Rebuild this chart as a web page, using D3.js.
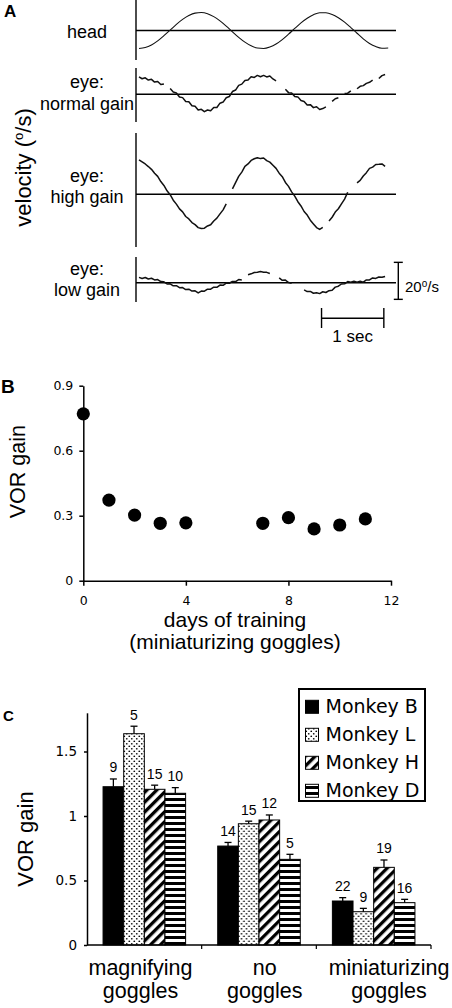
<!DOCTYPE html>
<html><head><meta charset="utf-8">
<script src="https://cdn.jsdelivr.net/npm/d3@7"></script>
<style>body{margin:0;background:#fff}svg{display:block}</style>
</head><body>
<svg id="c" width="452" height="1008"></svg>
<script>
// ---------------- Panel A data (velocity, deg/s) ----------------
const headDt = 0.1;   // s between samples
const headVelocity = [-9.7,-9.2,-7.8,-5.6,-2.8,0.2,3.3,6.0,8.1,9.4,
  9.7,9.1,7.5,5.2,2.4,-0.7,-3.7,-6.3,-8.3,-9.5,
  -9.7,-8.9,-7.3,-4.9,-2.0,1.1,4.1,6.6,8.5,9.6,
  9.6,8.7,6.9,4.5,1.6,-1.5,-4.5,-7.0,-8.7,-9.6,-9.5];
const eyeDt = 0.05;
const eyeNormal = [9.4,8.4,8.9,7.7,8.1,6.6,6.9,5.3,5.6,null,
  3.1,1.2,0.7,-1.5,-1.8,-3.9,-4.0,-6.2,-6.5,-8.5,
  -8.1,-9.4,-8.5,-8.9,-7.1,-7.1,-4.8,-4.2,-1.9,-1.2,
  1.5,2.3,4.8,5.5,7.5,7.7,9.5,9.1,10.2,9.5,
  10.2,9.4,9.9,8.3,7.3,null,null,2.7,0.9,0.7,
  -1.2,-1.4,-3.4,-3.9,-5.8,-5.6,-7.2,-6.7,-8.2,-7.7,
  -6.8,null,-3.8,-2.4,-1.9,null,0.4,0.6,1.9,null,
  3.0,4.3,4.7,5.9,6.5,7.6,null,8.5,10.1,10.7];
const eyeHigh = [18.6,17.5,16.4,15.0,13.5,11.4,9.7,6.9,4.8,1.9,
  -0.2,-3.2,-5.3,-7.9,-9.5,-12.0,-13.3,-15.3,-16.4,-18.0,
  -18.5,-18.3,-17.1,-16.5,-14.4,-12.9,-10.6,-8.4,-5.2,null,
  2.9,6.3,9.7,12.0,15.1,16.4,18.3,19.2,19.8,19.3,
  19.6,18.2,17.4,15.7,14.0,11.4,9.5,6.4,4.3,1.3,
  -1.0,-4.0,-6.3,-9.3,-11.2,-14.0,-16.0,-18.0,-19.0,-17.9,
  null,-14.4,-12.4,-9.6,-7.8,-5.2,-2.6,1.1,null,null,
  6.2,7.5,9.9,11.7,14.0,14.7,16.1,16.2,16.4,15.1];
const eyeLow = [2.9,2.3,2.8,2.0,2.4,1.5,1.7,0.6,0.5,-0.7,
  -0.6,-1.7,-1.6,-2.7,-2.6,-3.7,-3.5,-4.5,-4.4,-5.5,
  -4.5,-4.6,-3.5,-3.5,-2.4,-2.5,-1.3,-1.4,-0.2,-0.3,
  0.7,0.6,1.7,1.5,null,4.3,4.8,5.5,5.7,6.0,
  5.7,5.6,5.0,null,null,2.6,1.3,1.4,0.1,-0.3,
  null,null,null,-3.9,-4.8,-4.7,-5.7,-5.4,-5.9,-4.9,
  -5.3,-4.3,-4.1,-2.4,-1.9,-0.7,-0.6,0.6,0.2,0.8,
  0.2,0.8,0.3,1.5,1.5,2.6,2.3,3.1,2.9,3.4];
const traceLabels = [["head"],["eye:","normal gain"],["eye:","high gain"],["eye:","low gain"]];
const velocityScaleBar = 20; // deg/s
const timeScaleBar = 1;      // s

// ---------------- Panel B data ----------------
const trainingDays = [0,1,2,3,4,7,8,9,10,11];
const trainingGain = [0.77,0.372,0.303,0.265,0.267,0.265,0.291,0.239,0.257,0.285];
const dayTicks = [0,4,8,12];
const gainTicksB = [0,0.3,0.6,0.9];

// ---------------- Panel C data ----------------
const conditions = ["magnifying goggles","no goggles","miniaturizing goggles"];
const monkeys = ["Monkey B","Monkey L","Monkey H","Monkey D"];
const gainMagnifying = [1.227,1.638,1.207,1.176];
const errMagnifying  = [0.06,0.058,0.032,0.044];
const nMagnifying    = [9,5,15,10];
const gainNoGoggles  = [0.767,0.940,0.969,0.664];
const errNoGoggles   = [0.028,0.02,0.039,0.039];
const nNoGoggles     = [14,15,12,5];
const gainMiniaturizing = [0.341,0.258,0.602,0.328];
const errMiniaturizing  = [0.026,0.026,0.057,0.026];
const nMiniaturizing    = [22,9,19,16];
const gainTicksC = [0,0.5,1,1.5];

// =================================================
const svg = d3.select("#c");
const FA = "'Liberation Sans', Arial, Helvetica, sans-serif";
const FV = "'DejaVu Sans', Verdana, sans-serif";

// ---------- patterns ----------
const defs = svg.append("defs");
const pDots = defs.append("pattern").attr("id","pDots").attr("patternUnits","userSpaceOnUse").attr("width",5).attr("height",5);
pDots.append("rect").attr("width",5).attr("height",5).attr("fill","#fff");
pDots.append("circle").attr("cx",1.25).attr("cy",1.25).attr("r",0.85).attr("fill","#000");
pDots.append("circle").attr("cx",3.75).attr("cy",3.75).attr("r",0.85).attr("fill","#000");
const pDiag = defs.append("pattern").attr("id","pDiag").attr("patternUnits","userSpaceOnUse").attr("width",7).attr("height",7).attr("patternTransform","rotate(45)");
pDiag.append("rect").attr("width",7).attr("height",7).attr("fill","#fff");
pDiag.append("rect").attr("width",3.3).attr("height",7).attr("fill","#000");
const pHor = defs.append("pattern").attr("id","pHor").attr("patternUnits","userSpaceOnUse").attr("width",6).attr("height",6);
pHor.append("rect").attr("width",6).attr("height",6).attr("fill","#fff");
pHor.append("rect").attr("width",6).attr("height",3).attr("fill","#000");
const fills = ["#000","url(#pDots)","url(#pDiag)","url(#pHor)"];

// ================= Panel A =================
const gA = svg.append("g");
gA.append("text").attr("x",4).attr("y",17).attr("font-family",FA).attr("font-weight","bold").attr("font-size",17).text("A");
const tx = d3.scaleLinear().domain([0,1]).range([139,201.3]);
const layoutA = [
  {values: headVelocity, dt: headDt, zeroY: 30.5, axis:[0,60], labelY: 37.7, w: 1.1, smooth: true},
  {values: eyeNormal, dt: eyeDt, zeroY: 94.3, axis:[68,122], labelY: 88, w: 1.5},
  {values: eyeHigh, dt: eyeDt, zeroY: 194.3, axis:[133,247], labelY: 181.5, w: 1.5},
  {values: eyeLow, dt: eyeDt, zeroY: 282.7, axis:[257,302], labelY: 274.5, w: 1.5}
];
let lowY;
layoutA.forEach((p,i)=>{
  const y = d3.scaleLinear().domain([0,20]).range([p.zeroY, p.zeroY-37]);
  if (i===3) lowY = y;
  gA.append("line").attr("x1",136).attr("x2",136).attr("y1",p.axis[0]).attr("y2",p.axis[1]).attr("stroke","#000").attr("stroke-width",1.4);
  gA.append("line").attr("x1",136).attr("x2",396).attr("y1",y(0)).attr("y2",y(0)).attr("stroke","#000").attr("stroke-width",1.4);
  const line = d3.line().defined(d=>d!=null).x((d,j)=>tx(j*p.dt)).y(d=>y(d))
    .curve(p.smooth ? d3.curveMonotoneX : d3.curveLinear);
  gA.append("path").datum(p.values).attr("d",line).attr("fill","none").attr("stroke","#111").attr("stroke-width",p.w).attr("stroke-linejoin","round");
  traceLabels[i].forEach((s,k)=>{
    gA.append("text").attr("x",87).attr("y",p.labelY + k*21.5).attr("text-anchor","middle")
      .attr("font-family",FA).attr("font-size",18).text(s);
  });
});
// velocity scale bar
const sbX = 398.3, sbLo = -9;
gA.append("line").attr("x1",sbX).attr("x2",sbX).attr("y1",lowY(sbLo)).attr("y2",lowY(sbLo+velocityScaleBar)).attr("stroke","#000").attr("stroke-width",1.4);
[sbLo, sbLo+velocityScaleBar].forEach(v=>gA.append("line").attr("x1",sbX-4.5).attr("x2",sbX+4.5).attr("y1",lowY(v)).attr("y2",lowY(v)).attr("stroke","#000").attr("stroke-width",1.4));
const sbt = gA.append("text").attr("x",405).attr("y",292).attr("font-family",FA).attr("font-size",15);
sbt.append("tspan").text(velocityScaleBar);
sbt.append("tspan").attr("font-size",10).attr("dy",-5).text("o");
sbt.append("tspan").attr("dy",5).text("/s");
// time scale bar
const tb0 = 2.93;
gA.append("line").attr("x1",tx(tb0)).attr("x2",tx(tb0+timeScaleBar)).attr("y1",318.3).attr("y2",318.3).attr("stroke","#000").attr("stroke-width",1.4);
[tb0, tb0+timeScaleBar].forEach(t=>gA.append("line").attr("x1",tx(t)).attr("x2",tx(t)).attr("y1",308).attr("y2",328).attr("stroke","#000").attr("stroke-width",1.4));
gA.append("text").attr("x",(tx(tb0)+tx(tb0+timeScaleBar))/2).attr("y",341.5).attr("text-anchor","middle").attr("font-family",FA).attr("font-size",17).text(timeScaleBar + " sec");
// y label
const vl = gA.append("text").attr("transform","translate(31,167.5) rotate(-90)").attr("text-anchor","middle").attr("font-family",FA).attr("font-size",22);
vl.append("tspan").text("velocity (");
vl.append("tspan").attr("font-size",13).attr("dy",-8).text("o");
vl.append("tspan").attr("dy",8).text("/s)");

// ================= Panel B =================
const gB = svg.append("g");
gB.append("text").attr("x",1).attr("y",393.3).attr("font-family",FA).attr("font-weight","bold").attr("font-size",19).text("B");
const xB = d3.scaleLinear().domain([0,12]).range([83.3,391]);
const yB = d3.scaleLinear().domain([0,0.9]).range([580.7,385.7]);
const axXB = gB.append("g").attr("transform",`translate(0,${yB(0)})`)
  .call(d3.axisBottom(xB).tickValues(dayTicks).tickSize(5).tickSizeOuter(0).tickPadding(10).tickFormat(d=>String(d)));
const axYB = gB.append("g").attr("transform",`translate(${xB(0)},0)`)
  .call(d3.axisLeft(yB).tickValues(gainTicksB).tickSize(4).tickSizeOuter(0).tickPadding(6).tickFormat(d=>String(d)));
[axXB, axYB].forEach(a=>{
  a.selectAll("path,line").attr("stroke","#000").attr("stroke-width",1.5);
  a.selectAll("text").attr("font-family",FV).attr("font-size",12.5).attr("fill","#000");
});
gB.selectAll("circle.pt").data(trainingDays).join("circle").attr("class","pt")
  .attr("cx",d=>xB(d)).attr("cy",(d,i)=>yB(trainingGain[i])).attr("r",6.6).attr("fill","#000");
gB.append("text").attr("transform","translate(25,471.7) rotate(-90)").attr("text-anchor","middle").attr("font-family",FA).attr("font-size",21.5).text("VOR gain");
gB.append("text").attr("x",235).attr("y",627).attr("text-anchor","middle").attr("font-family",FA).attr("font-size",21).text("days of training");
gB.append("text").attr("x",235).attr("y",648.5).attr("text-anchor","middle").attr("font-family",FA).attr("font-size",21).text("(miniaturizing goggles)");

// ================= Panel C =================
const gC = svg.append("g");
gC.append("text").attr("x",3).attr("y",720.7).attr("font-family",FA).attr("font-weight","bold").attr("font-size",15).text("C");
const gains = [gainMagnifying, gainNoGoggles, gainMiniaturizing];
const errs = [errMagnifying, errNoGoggles, errMiniaturizing];
const ns = [nMagnifying, nNoGoggles, nMiniaturizing];
const x0 = d3.scaleBand().domain(conditions).range([87,431]).paddingInner(0.28).paddingOuter(0.14);
const x1 = d3.scaleBand().domain(monkeys).range([0,x0.bandwidth()]);
const yC = d3.scaleLinear().domain([0,1.8]).range([945,712.8]);

conditions.forEach((c,ci)=>{
  const g = gC.append("g").attr("transform",`translate(${x0(c)},0)`);
  monkeys.forEach((m,mi)=>{
    const v = gains[ci][mi], e = errs[ci][mi];
    const bx = x1(m), bw = x1.bandwidth(), cx = bx + bw/2;
    g.append("rect").attr("x",bx).attr("y",yC(v)).attr("width",bw).attr("height",yC(0)-yC(v))
      .attr("fill",fills[mi]).attr("stroke","#000").attr("stroke-width",1);
    g.append("line").attr("x1",cx).attr("x2",cx).attr("y1",yC(v)).attr("y2",yC(v+e)).attr("stroke","#000").attr("stroke-width",1.3);
    g.append("line").attr("x1",cx-3.5).attr("x2",cx+3.5).attr("y1",yC(v+e)).attr("y2",yC(v+e)).attr("stroke","#000").attr("stroke-width",1.3);
    g.append("text").attr("x",cx).attr("y",yC(v+e)-6.5).attr("text-anchor","middle").attr("font-family",FA).attr("font-size",14).text(ns[ci][mi]);
  });
});
// y axis
const axYC = gC.append("g").attr("transform","translate(87,0)")
  .call(d3.axisLeft(yC).tickValues(gainTicksC).tickSize(3).tickSizeOuter(0).tickPadding(7).tickFormat(d=>String(d)));
axYC.selectAll("path,line").attr("stroke","#000").attr("stroke-width",1.5);
axYC.selectAll("text").attr("font-family",FV).attr("font-size",13.5).attr("fill","#000");
// x axis line with category boundary ticks
gC.append("line").attr("x1",87).attr("x2",431).attr("y1",yC(0)).attr("y2",yC(0)).attr("stroke","#000").attr("stroke-width",1.5);
[1,2,3].forEach(i=>{
  const bx = x0.range()[0] + x0.step()*i;
  gC.append("line").attr("x1",bx).attr("x2",bx).attr("y1",yC(0)).attr("y2",yC(0)+4).attr("stroke","#000").attr("stroke-width",1.2);
});
// category labels
const xLab = d3.scalePoint().domain(conditions).range([140.5,389]);
conditions.forEach(c=>{
  c.split(" ").forEach((w,k)=>{
    gC.append("text").attr("x",xLab(c)).attr("y",975+k*22.5).attr("text-anchor","middle").attr("font-family",FA).attr("font-size",21.5).text(w);
  });
});
gC.append("text").attr("transform","translate(33,839) rotate(-90)").attr("text-anchor","middle").attr("font-family",FA).attr("font-size",22).text("VOR gain");
// legend
const lg = gC.append("g");
lg.append("rect").attr("x",299).attr("y",689).attr("width",126).attr("height",112).attr("fill","#fff").attr("stroke","#000").attr("stroke-width",2);
monkeys.forEach((m,i)=>{
  const by = 713.3 + i*28;
  lg.append("rect").attr("x",305.5).attr("y",by-13).attr("width",13).attr("height",13).attr("fill",fills[i]).attr("stroke","#000").attr("stroke-width",1);
  lg.append("text").attr("x",325.5).attr("y",by).attr("font-family",FV).attr("font-size",19).text(m);
});
</script>
</body></html>
